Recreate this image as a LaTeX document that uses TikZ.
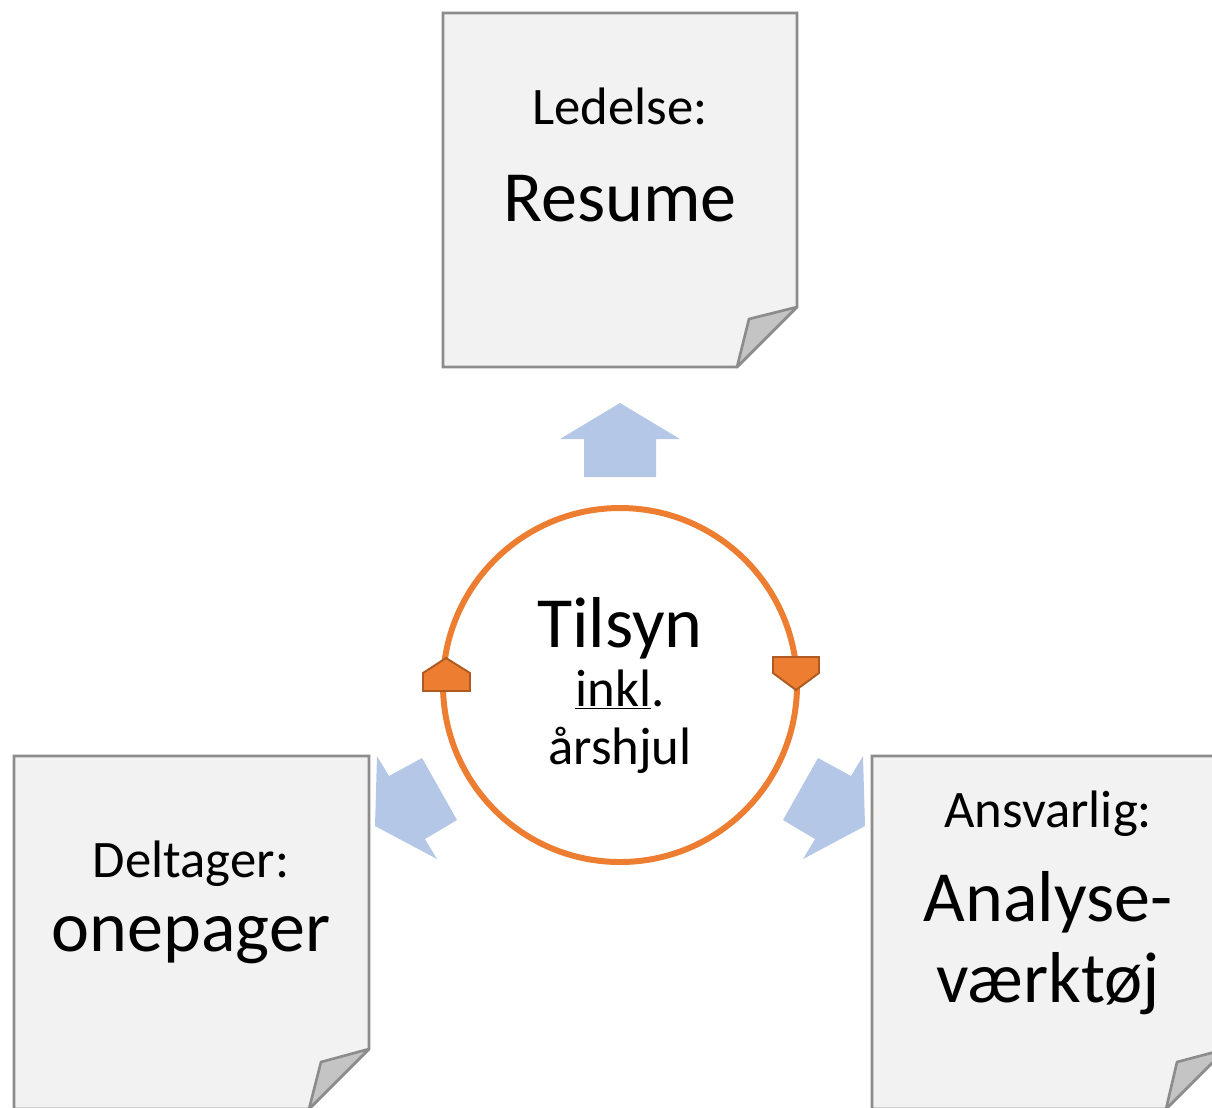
\documentclass[tikz,border=0pt]{standalone}
\usepackage{fontspec}
\setmainfont{Carlito}
\usetikzlibrary{positioning}
\definecolor{docfill}{HTML}{F2F2F2}
\definecolor{docline}{HTML}{8C8C8C}
\definecolor{foldfill}{HTML}{C4C4C4}
\definecolor{arrowblue}{HTML}{B4C7E7}
\definecolor{wheelorange}{HTML}{ED7D31}
\definecolor{wheeldark}{HTML}{AE5A21}

\begin{document}
\begin{tikzpicture}[x=0.02cm,y=-0.02cm,
    doc/.style={fill=docfill,draw=docline,line width=1.5pt},
    fold/.style={fill=foldfill,draw=docline,line width=1.5pt,line join=round},
    small/.style={font=\fontsize{30}{36}\selectfont,anchor=base},
    big/.style={font=\fontsize{41}{49}\selectfont,anchor=base},
    blockarrow/.style={fill=arrowblue},
    orangehead/.style={fill=wheelorange,draw=wheeldark,line width=1.1pt}]
  \useasboundingbox (0,0) rectangle (1212,1107);
  \clip (0,0) rectangle (1212,1107);

  % documents
  \draw[doc] (443,13) -- (797,13) -- (797,307) -- (737,367) -- (443,367) -- cycle;
  \draw[fold] (797,307) -- (749,319) -- (737,367) -- cycle;
  \draw[doc] (14,756) -- (369,756) -- (369,1049) -- (309,1109) -- (14,1109) -- cycle;
  \draw[fold] (369,1049) -- (321,1062) -- (309,1109) -- cycle;
  \draw[doc] (872,756) -- (1226,756) -- (1226,1049) -- (1166,1109) -- (872,1109) -- cycle;
  \draw[fold] (1226,1049) -- (1177,1062) -- (1166,1109) -- cycle;

  \node[small] (ledelse) at (620,124) {Ledelse:};
  \node[big] (resume) at (620,221) {Resume};
  \node[small] (deltager) at (191,877) {Deltager:};
  \node[big] (onepager) at (191,951) {onepager};
  \node[small] (ansvarlig) at (1048,827) {Ansvarlig:};
  \node[big] (analyse) at (1048,921) {Analyse-};
  \node[big] (vaerktoej) at (1048,1002) {værktøj};

  % block arrows
  \fill[blockarrow] (620,403) -- (680,439) -- (656,439) -- (656,477) -- (584,477)
    -- (584,439) -- (560,439) -- cycle;
  \fill[blockarrow] (375,826) -- (377,756) -- (389,776) -- (422,758) -- (457,820)
    -- (425,839) -- (437,859) -- cycle;
  \fill[blockarrow] (865,826) -- (863,756) -- (851,776) -- (818,758) -- (783,820)
    -- (815,839) -- (803,859) -- cycle;

  % wheel
  \node[circle,draw=wheelorange,line width=3.4pt,minimum size=354*0.02cm,inner sep=0pt]
    (wheel) at (620,685) {};
  \node[big] (tilsyn) at (620,647) {Tilsyn};
  \node[small] (inkl) at (620,706) {\underline{inkl}.};
  \node[small] (aarshjul) at (620,764) {årshjul};
  \draw[orangehead] (446,658) -- (470,673) -- (470,691) -- (423,691) -- (423,673) -- cycle;
  \draw[orangehead] (796,690) -- (773,673) -- (773,657) -- (819,657) -- (819,673) -- cycle;
\end{tikzpicture}
\end{document}
